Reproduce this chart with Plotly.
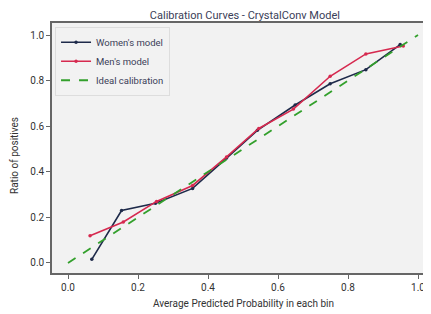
import plotly.graph_objects as go

women_x = [0.068, 0.153, 0.25, 0.356, 0.453, 0.541, 0.649, 0.749, 0.851, 0.949]
women_y = [0.016, 0.23, 0.262, 0.327, 0.46, 0.582, 0.693, 0.786, 0.848, 0.958]
men_x = [0.063, 0.158, 0.253, 0.356, 0.453, 0.545, 0.644, 0.749, 0.851, 0.958]
men_y = [0.119, 0.18, 0.27, 0.34, 0.465, 0.59, 0.675, 0.819, 0.917, 0.952]
ideal_x = [0.0, 1.0]
ideal_y = [0.0, 1.0]
tick_vals = [0.0, 0.2, 0.4, 0.6, 0.8, 1.0]
tick_text = ["0.0", "0.2", "0.4", "0.6", "0.8", "1.0"]

FONT = "Roboto, sans-serif"
navy = "#1e2a4a"
red = "#d6294f"
green = "#33a02c"

fig = go.Figure()
fig.add_trace(go.Scatter(x=women_x, y=women_y, mode="lines+markers", name="Women's model",
                         line=dict(color=navy, width=1.6), marker=dict(size=3.5, color=navy)))
fig.add_trace(go.Scatter(x=men_x, y=men_y, mode="lines+markers", name="Men's model",
                         line=dict(color=red, width=1.6), marker=dict(size=3.5, color=red)))
fig.add_trace(go.Scatter(x=ideal_x, y=ideal_y, mode="lines", name="Ideal calibration",
                         line=dict(color=green, width=1.8, dash="dash")))

fig.update_layout(
    width=423, height=306,
    margin=dict(l=44, r=0, t=15, b=41),
    paper_bgcolor="white", plot_bgcolor="#f2f2f2",
    font=dict(family=FONT, size=10, color="#333333"),
    title=dict(text="Calibration Curves - CrystalConv Model", x=0.56, xanchor="center",
               y=0.977, yanchor="middle", font=dict(size=11, color="#3b4058")),
    showlegend=True,
    legend=dict(x=0.008, y=0.985, xanchor="left", yanchor="top",
                bgcolor="rgba(242,242,242,0.9)", bordercolor="#dddddd", borderwidth=1,
                font=dict(size=9.5, color="#3b4058"), tracegroupgap=0, itemwidth=30),
    xaxis=dict(range=[-0.0457, 1.0371], tickvals=tick_vals, ticktext=tick_text, automargin=False,
               showgrid=False, zeroline=False, showline=True, linecolor="#666666", linewidth=1.5,
               mirror=True, ticks="outside", ticklen=4, tickcolor="#666666"),
    yaxis=dict(range=[-0.044, 1.0527], tickvals=tick_vals, ticktext=tick_text, automargin=False,
               showgrid=False, zeroline=False, showline=True, linecolor="#666666", linewidth=1.5,
               ticks="outside", ticklen=4, tickcolor="#666666"),
    annotations=[
        dict(text="Ratio of positives", xref="paper", yref="paper",
             x=-0.1003, y=0.472, xanchor="center", yanchor="middle",
             textangle=-90, showarrow=False, font=dict(size=10, color="#333333")),
        dict(text="Average Predicted Probability in each bin", xref="paper", yref="paper",
             x=0.504, y=-0.12, xanchor="center", yanchor="middle",
             showarrow=False, font=dict(size=10, color="#333333")),
    ],
)

fig.write_html("out.html")
